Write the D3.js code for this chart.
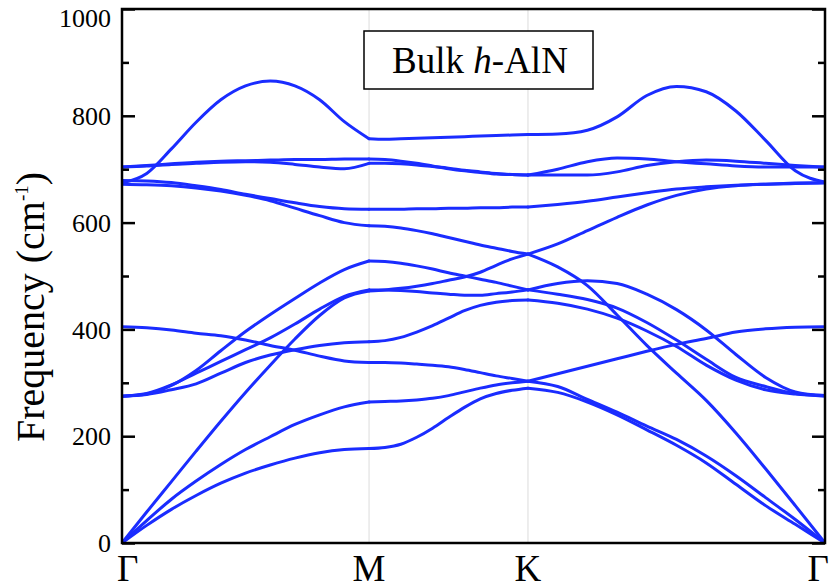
<!DOCTYPE html>
<html><head><meta charset="utf-8">
<script src="https://cdn.jsdelivr.net/npm/d3@7"></script>
<style>body{margin:0;background:#fff} svg{display:block}</style>
</head><body>
<svg id="chart" width="830" height="588"></svg>
<script>
// high-symmetry points along the path (normalized path length)
const kPoints = [0, 0.3514, 0.5775, 1];
const kLabels = ["Γ", "M", "K", "Γ"];
const yTicks = [0, 200, 400, 600, 800, 1000];
const yMinor = [100, 300, 500, 700, 900];
// sampling positions inside each segment (fraction of the segment)
const segT = [0, 0.1, 0.2, 0.3, 0.4, 0.5, 0.6, 0.7, 0.8, 0.9, 1];

// frequencies (cm^-1) along Γ→M
const bandsGM = [
  [0, 33, 63, 89, 112, 131, 146, 159, 169, 175, 177],
  [0, 42, 82, 116, 147, 175, 199, 222, 240, 255, 264],
  [0, 58, 115, 172, 228, 282, 333, 382, 426, 459, 472],
  [405, 403, 399, 393, 388, 380, 370, 361, 350, 341, 338],
  [275, 278, 287, 298, 318, 338, 352, 362, 370, 375, 377],
  [275, 280, 296, 318, 340, 362, 384, 410, 438, 462, 474],
  [275, 279, 295, 323, 360, 396, 428, 458, 487, 512, 528],
  [672, 671, 669, 665, 659, 651, 641, 627, 613, 600, 594],
  [679, 678, 675, 669, 662, 653, 645, 637, 630, 626, 625],
  [704, 706, 709, 711, 713, 714, 713, 709, 704, 701, 711],
  [704, 707, 710, 713, 715, 716, 717, 718, 718, 719, 719],
  [674, 692, 738, 788, 830, 856, 865, 856, 830, 789, 757]
];
// frequencies along M→K
const bandsMK = [
  [177, 179, 185, 198, 215, 235, 254, 270, 280, 286, 290],
  [264, 265, 266, 268, 271, 276, 283, 290, 296, 300, 303],
  [472, 474, 477, 481, 486, 492, 498, 507, 520, 532, 541],
  [338, 338, 337, 335, 333, 330, 325, 319, 313, 308, 303],
  [377, 379, 385, 395, 407, 421, 435, 445, 451, 454, 455],
  [474, 474, 473, 471, 468, 466, 464, 464, 467, 470, 474],
  [528, 527, 524, 519, 513, 506, 500, 494, 488, 481, 474],
  [594, 593, 590, 585, 579, 572, 565, 558, 552, 546, 541],
  [625, 625, 625, 626, 626, 627, 627, 628, 628, 629, 629],
  [711, 711, 710, 708, 705, 702, 698, 695, 692, 690, 689],
  [719, 718, 715, 711, 706, 701, 697, 694, 691, 690, 689],
  [757, 756, 757, 758, 759, 760, 761, 762, 763, 764, 765]
];
// frequencies along K→Γ
const bandsKG = [
  [290, 282, 264, 240, 212, 183, 150, 110, 70, 35, 0],
  [303, 293, 269, 245, 219, 194, 163, 126, 85, 44, 0],
  [541, 517, 482, 427, 370, 318, 267, 206, 139, 70, 0],
  [303, 317, 331, 345, 359, 372, 383, 395, 401, 404, 405],
  [455, 449, 438, 421, 397, 368, 333, 305, 287, 279, 275],
  [474, 466, 456, 440, 413, 380, 344, 310, 293, 280, 276],
  [474, 486, 491, 486, 466, 437, 399, 353, 310, 283, 276],
  [541, 560, 585, 610, 633, 651, 663, 669, 672, 674, 675],
  [629, 634, 640, 648, 656, 663, 667, 670, 672, 673, 674],
  [689, 689, 689, 695, 707, 714, 717, 715, 711, 707, 704],
  [689, 700, 714, 721, 719, 714, 710, 706, 704, 704, 704],
  [765, 766, 773, 798, 838, 855, 845, 809, 754, 697, 676]
];
const segments = [bandsGM, bandsMK, bandsKG];

const svg = d3.select("#chart");
const L = 122, R = 825, T = 9, B = 543;
const x = d3.scaleLinear().domain([0, 1]).range([L, R]);
const y = d3.scaleLinear().domain([0, 1000]).range([B, T]);
const serif = "'Liberation Serif','Times New Roman',serif";

svg.append("defs").append("clipPath").attr("id", "clip")
  .append("rect").attr("x", L).attr("y", T).attr("width", R - L).attr("height", B - T);

// vertical lines at M and K
svg.append("g").selectAll("line").data(kPoints.slice(1, 3)).join("line")
  .attr("x1", d => x(d)).attr("x2", d => x(d)).attr("y1", T).attr("y2", B)
  .attr("stroke", "#dcdcdc").attr("stroke-width", 1);

// bands
const line = d3.line().x(d => x(d[0])).y(d => y(d[1])).curve(d3.curveMonotoneX);
const gBands = svg.append("g").attr("clip-path", "url(#clip)");
segments.forEach((seg, s) => {
  const k0 = kPoints[s], k1 = kPoints[s + 1];
  seg.forEach(vals => {
    const pts = segT.map((t, i) => [k0 + t * (k1 - k0), vals[i]]);
    gBands.append("path").datum(pts).attr("d", line)
      .attr("fill", "none").attr("stroke", "#1a2cff")
      .attr("stroke-width", 3).attr("stroke-linecap", "round");
  });
});

// axes: left and right with inward ticks
const axL = d3.axisRight(y).tickValues(yTicks).tickSize(13).tickFormat("");
const axLm = d3.axisRight(y).tickValues(yMinor).tickSize(7).tickFormat("");
const axR = d3.axisLeft(y).tickValues(yTicks).tickSize(13).tickFormat("");
const axRm = d3.axisLeft(y).tickValues(yMinor).tickSize(7).tickFormat("");
[[axL, L], [axLm, L], [axR, R], [axRm, R]].forEach(([ax, pos]) => {
  const g = svg.append("g").attr("transform", `translate(${pos},0)`).call(ax);
  g.select(".domain").remove();
  g.selectAll("line").attr("stroke", "#000").attr("stroke-width", 2.5);
});

// y tick labels (top label kept inside the picture)
svg.append("g").selectAll("text").data(yTicks).join("text")
  .attr("x", 111).attr("y", d => Math.max(y(d), 18)).attr("dy", "0.35em")
  .attr("text-anchor", "end").attr("font-family", serif).attr("font-size", 26)
  .text(d => d);

// x labels (end labels kept inside the picture)
const n = kPoints.length;
svg.append("g").selectAll("text").data(kPoints).join("text")
  .attr("x", (d, i) => i === 0 ? 117 : i === n - 1 ? 829 : x(d))
  .attr("y", 581)
  .attr("text-anchor", (d, i) => i === 0 ? "start" : i === n - 1 ? "end" : "middle")
  .attr("font-family", serif).attr("font-size", 37)
  .text((d, i) => kLabels[i]);

// frame
svg.append("rect").attr("x", L).attr("y", T).attr("width", R - L).attr("height", B - T)
  .attr("fill", "none").attr("stroke", "#000").attr("stroke-width", 2.5);

// y title
const yt = svg.append("text").attr("transform", "translate(44,307) rotate(-90)")
  .attr("text-anchor", "middle").attr("font-family", serif).attr("font-size", 40);
yt.append("tspan").text("Frequency (cm");
yt.append("tspan").attr("font-size", 19).attr("dy", -16).text("-1");
yt.append("tspan").attr("dy", 16).text(")");

// legend box
svg.append("rect").attr("x", 364).attr("y", 31).attr("width", 229).attr("height", 58)
  .attr("fill", "#fff").attr("stroke", "#000").attr("stroke-width", 1.5);
const lt = svg.append("text").attr("x", 480).attr("y", 73).attr("text-anchor", "middle")
  .attr("font-family", serif).attr("font-size", 37);
lt.append("tspan").text("Bulk ");
lt.append("tspan").attr("font-style", "italic").text("h");
lt.append("tspan").text("-AlN");
</script>
</body></html>
